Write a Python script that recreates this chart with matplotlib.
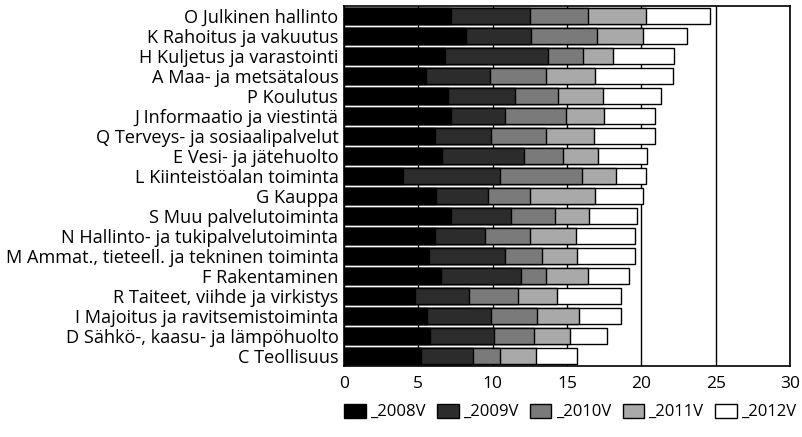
import matplotlib
matplotlib.use("Agg")
import matplotlib.pyplot as plt
import numpy as np
from matplotlib.patches import Patch

plt.rcParams['font.family'] = ['Open Sans', 'DejaVu Sans']

categories = [
    "O Julkinen hallinto",
    "K Rahoitus ja vakuutus",
    "H Kuljetus ja varastointi",
    "A Maa- ja metsätalous",
    "P Koulutus",
    "J Informaatio ja viestintä",
    "Q Terveys- ja sosiaalipalvelut",
    "E Vesi- ja jätehuolto",
    "L Kiinteistöalan toiminta",
    "G Kauppa",
    "S Muu palvelutoiminta",
    "N Hallinto- ja tukipalvelutoiminta",
    "M Ammat., tieteell. ja tekninen toiminta",
    "F Rakentaminen",
    "R Taiteet, viihde ja virkistys",
    "I Majoitus ja ravitsemistoiminta",
    "D Sähkö-, kaasu- ja lämpöhuolto",
    "C Teollisuus",
]

v2008 = [7.2, 8.2, 6.8, 5.5, 7.0, 7.2, 6.1, 6.6, 4.0, 6.2, 7.2, 6.1, 5.7, 6.5, 4.8, 5.6, 5.8, 5.2]
v2009 = [12.5, 12.6, 13.7, 9.8, 11.5, 10.8, 9.9, 12.1, 10.5, 9.7, 11.2, 9.5, 10.8, 11.9, 8.4, 9.9, 10.1, 8.7]
v2010 = [16.4, 17.0, 16.1, 13.6, 14.4, 14.9, 13.6, 14.7, 16.0, 12.5, 14.2, 12.5, 13.3, 13.6, 11.7, 13.0, 12.8, 10.5]
v2011 = [20.3, 20.1, 18.1, 16.9, 17.4, 17.5, 16.8, 17.1, 18.3, 16.9, 16.5, 15.6, 15.7, 16.4, 14.3, 15.8, 15.2, 12.9]
v2012 = [24.6, 23.1, 22.2, 22.1, 21.3, 20.9, 20.9, 20.4, 20.3, 20.1, 19.7, 19.6, 19.6, 19.2, 18.6, 18.6, 17.7, 15.7]

series_names = ["_2008V", "_2009V", "_2010V", "_2011V", "_2012V"]
series = [v2008, v2009, v2010, v2011, v2012]
colors = ["#000000", "#2c2c2c", "#7a7a7a", "#a9a9a9", "#ffffff"]

fig = plt.figure(figsize=(8.02, 4.37), dpi=100)
ax = fig.add_axes([344/802, 1-366/437, (790-344)/802, (366-6)/437])

y = np.arange(len(categories))
# draw from longest (back) to shortest (front)
for vals, col, z in zip(series[::-1], colors[::-1], range(5)):
    ax.barh(y, vals, height=0.76, color=col, edgecolor="black", linewidth=1.0, zorder=2+z)

ax.set_xlim(0, 30)
ax.set_ylim(len(categories)-0.5, -0.5)
ax.set_xticks([0, 5, 10, 15, 20, 25, 30])
ax.set_yticks(y)
ax.set_yticklabels(categories, fontsize=13.1)
ax.tick_params(axis='x', labelsize=12.5, length=0, pad=7)
ax.tick_params(axis='y', length=0, pad=4)
ax.grid(axis='x', color='black', linewidth=1.0, zorder=0)
ax.set_axisbelow(True)
for s in ax.spines.values():
    s.set_linewidth(1.2)
    s.set_color('black')

handles = [Patch(facecolor=c, edgecolor='black', linewidth=1.0) for c in colors]
fig.legend(handles, series_names, loc='center', bbox_to_anchor=(570/802, 1-412/437),
           ncol=5, frameon=False, fontsize=12, handlelength=1.3, handleheight=0.9,
           handletextpad=0.25, columnspacing=0.7, borderpad=0.2)

fig.savefig("out.png", dpi=100)
